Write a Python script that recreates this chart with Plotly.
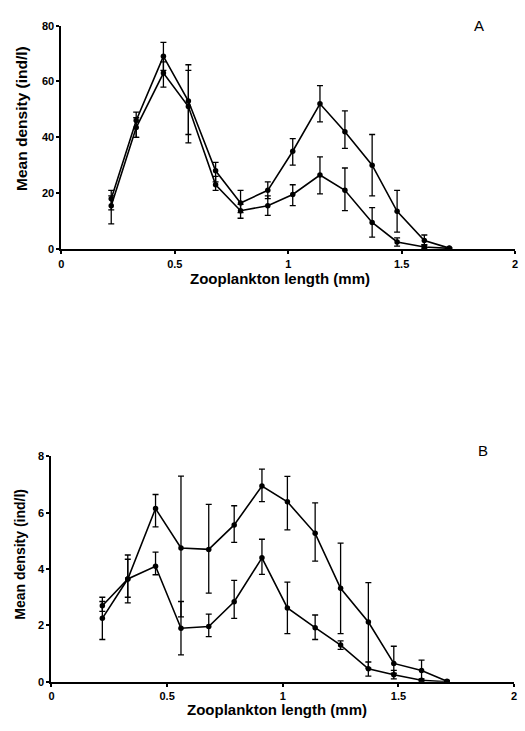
import plotly.graph_objects as go

x_len = [0.22, 0.33, 0.45, 0.56, 0.68, 0.79, 0.91, 1.02, 1.14, 1.25, 1.37, 1.48, 1.60, 1.71]

# Panel A
a1 = [18, 46, 69, 53, 28, 16.5, 21, 35, 52, 42, 30, 13.5, 3, 0.3]
a1_hi = [21, 49, 74, 66, 31, 21, 24, 39.5, 58.5, 49.5, 41, 21, 5, 0.5]
a1_lo = [14, 40, 64, 38, 24, 13, 18, 30, 45.5, 36, 19, 6, 1.4, 0.2]
a2 = [15.5, 43.5, 63, 51, 23, 13.7, 15.5, 19.5, 26.5, 21, 9.5, 2.5, 0.7, 0.2]
a2_hi = [19, 47, 67, 64, 26, 16, 19, 23, 33, 29, 14.8, 4, 1.5, 0.4]
a2_lo = [9, 40, 58, 41, 21, 11, 12, 15.5, 19.7, 13.7, 4.2, 1, 0.2, 0]

# Panel B
b1 = [2.7, 3.65, 6.15, 4.75, 4.7, 5.57, 6.95, 6.39, 5.27, 3.32, 2.12, 0.65, 0.4, 0.02]
b1_hi = [3.0, 4.5, 6.65, 7.3, 6.3, 6.25, 7.55, 7.29, 6.35, 4.92, 3.52, 1.26, 0.77, 0.05]
b1_lo = [2.5, 2.8, 5.5, 2.3, 3.15, 4.95, 6.4, 5.39, 4.28, 1.71, 0.48, 0.3, 0.05, 0]
b2 = [2.25, 3.65, 4.1, 1.9, 1.96, 2.84, 4.4, 2.62, 1.92, 1.3, 0.46, 0.25, 0.05, 0]
b2_hi = [2.85, 4.35, 4.6, 2.85, 2.4, 3.6, 5.06, 3.54, 2.37, 1.45, 0.7, 0.4, 0.1, 0]
b2_lo = [1.5, 3.0, 3.8, 0.95, 1.6, 2.25, 3.81, 1.71, 1.5, 1.15, 0.2, 0.1, 0, 0]

x_ticks = [0, 0.5, 1, 1.5, 2]
x_ticktext = ["0", "0.5", "1", "1.5", "2"]
a_yticks = [0, 20, 40, 60, 80]
b_yticks = [0, 2, 4, 6, 8]

FONT = "Liberation Sans, Arial, sans-serif"
W, H = 525, 731
fig = go.Figure()


def add_series(y, hi, lo, xa, ya):
    fig.add_trace(go.Scatter(
        x=x_len, y=y, xaxis=xa, yaxis=ya, mode="lines+markers",
        line=dict(color="black", width=1.6),
        marker=dict(color="black", size=5.5),
        error_y=dict(type="data", symmetric=False,
                     array=[h - v for h, v in zip(hi, y)],
                     arrayminus=[v - l for v, l in zip(y, lo)],
                     color="black", thickness=1.3, width=3),
        showlegend=False, hoverinfo="skip"))


add_series(a1, a1_hi, a1_lo, "x", "y")
add_series(a2, a2_hi, a2_lo, "x", "y")
add_series(b1, b1_hi, b1_lo, "x2", "y2")
add_series(b2, b2_hi, b2_lo, "x2", "y2")

axis_common = dict(showgrid=False, zeroline=False, showline=True, linecolor="black",
                   linewidth=2, ticks="outside", ticklen=3, tickwidth=1.5, tickcolor="black",
                   tickfont=dict(family=FONT, size=11, color="black", weight="bold"))

fig.update_layout(
    width=W, height=H, margin=dict(l=0, r=0, t=0, b=0),
    paper_bgcolor="white", plot_bgcolor="white",
    xaxis=dict(domain=[59/W, 518/W], range=[0, 2], tickvals=x_ticks, ticktext=x_ticktext,
               anchor="y", ticklabelstandoff=1, **axis_common),
    yaxis=dict(domain=[1 - 247/H, 1 - 20/H], range=[0, 80], tickvals=a_yticks,
               anchor="x", **axis_common),
    xaxis2=dict(domain=[49/W, 517/W], range=[0, 2], tickvals=x_ticks, ticktext=x_ticktext,
                anchor="y2", ticklabelstandoff=0, **axis_common),
    yaxis2=dict(domain=[1 - 687/H, 1 - 458/H], range=[0, 8], tickvals=b_yticks,
                anchor="x2", **axis_common),
)

xt_font = dict(family=FONT, size=15, color="black", weight="bold")
fig.add_annotation(xref="paper", yref="paper", showarrow=False, font=xt_font,
                   text="Zooplankton length (mm)", x=280/W, y=1 - 277/H,
                   xanchor="center", yanchor="middle")
fig.add_annotation(xref="paper", yref="paper", showarrow=False, font=xt_font,
                   text="Zooplankton length (mm)", x=277/W, y=1 - 715/H,
                   xanchor="center", yanchor="middle")
fig.add_annotation(xref="paper", yref="paper", showarrow=False,
                   font=dict(family=FONT, size=15.5, color="black", weight="bold"),
                   text="Mean density (ind/l)", textangle=-90,
                   x=18/W, y=1 - 114/H, xanchor="center", yanchor="middle")
fig.add_annotation(xref="paper", yref="paper", showarrow=False,
                   font=dict(family=FONT, size=14, color="black", weight="bold"),
                   text="Mean density (ind/l)", textangle=-90,
                   x=17/W, y=1 - 557/H, xanchor="center", yanchor="middle")
fig.add_annotation(xref="paper", yref="paper", showarrow=False, text="A",
                   font=dict(family=FONT, size=15, color="black"),
                   x=481/W, y=1 - 20/H, xanchor="center", yanchor="middle")
fig.add_annotation(xref="paper", yref="paper", showarrow=False, text="B",
                   font=dict(family=FONT, size=15, color="black"),
                   x=486/W, y=1 - 452/H, xanchor="center", yanchor="middle")

fig.write_html("out.html", config={"displayModeBar": False},
               post_script="document.body.style.margin='0px';")
